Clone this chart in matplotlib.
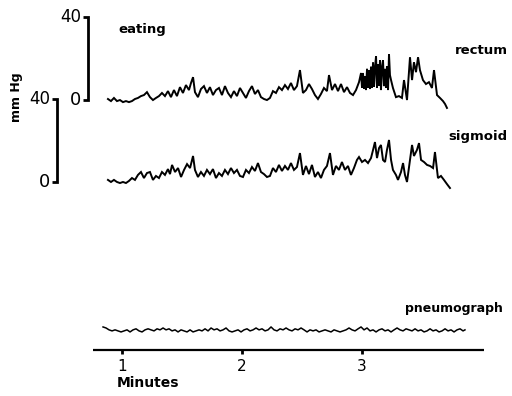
import matplotlib
matplotlib.use("Agg")
import matplotlib.pyplot as plt

# ---------------- data ----------------
# time in minutes, pressure in mm Hg
rectum_t = [0.883, 0.908, 0.933, 0.958, 0.983, 1.008, 1.033, 1.058, 1.083, 1.108,
            1.133, 1.158, 1.183, 1.208, 1.233, 1.258, 1.283, 1.308, 1.333, 1.358,
            1.383, 1.408, 1.433, 1.458, 1.483, 1.508, 1.533, 1.558, 1.575, 1.592,
            1.608, 1.633, 1.658, 1.683, 1.708, 1.733, 1.758, 1.783, 1.808, 1.833,
            1.858, 1.883, 1.908, 1.933, 1.958, 1.983, 2.008, 2.033, 2.058, 2.083,
            2.108, 2.133, 2.158, 2.183, 2.208, 2.233, 2.258, 2.283, 2.308, 2.333,
            2.358, 2.383, 2.408, 2.433, 2.458, 2.483, 2.508, 2.533, 2.558, 2.583,
            2.608, 2.633, 2.658, 2.683, 2.708, 2.725, 2.750, 2.775, 2.800, 2.825,
            2.850, 2.875, 2.900, 2.925, 2.950, 2.975, 2.992,
            3.000, 3.008, 3.017, 3.025, 3.033, 3.042, 3.050, 3.058, 3.067, 3.075,
            3.083, 3.092, 3.100, 3.108, 3.117, 3.125, 3.133, 3.142, 3.150, 3.158,
            3.167, 3.175, 3.183, 3.192, 3.200, 3.208, 3.217, 3.225, 3.233, 3.242,
            3.258, 3.283, 3.308, 3.333, 3.350, 3.375,
            3.400, 3.417, 3.433, 3.450, 3.467, 3.483, 3.508, 3.533, 3.558, 3.583,
            3.600, 3.625, 3.650, 3.675, 3.692, 3.708]
rectum_p = [0.5, -0.5, 1.0, -0.5, 0.0, -1.0, -0.5, -1.0, -0.5, 0.5,
            1.0, 1.9, 2.4, 3.8, 1.4, 0.0, 1.0, 1.9, 3.4, 1.9,
            4.3, 1.4, 4.8, 1.9, 6.2, 3.4, 7.2, 4.8, 8.2, 11.0,
            3.8, 1.4, 5.3, 6.7, 3.4, 6.2, 2.4, 4.8, 5.8, 2.4,
            6.7, 3.4, 1.4, 4.3, 1.9, 5.8, 3.4, 1.0, 4.3, 6.7,
            2.9, 4.8, 1.4, 0.5, 0.0, 1.0, 4.3, 3.4, 6.2, 4.8,
            7.2, 5.3, 8.2, 4.8, 6.7, 14.4, 3.4, 4.8, 7.7, 5.3,
            2.4, 0.5, 2.9, 5.8, 4.3, 12.0, 4.8, 7.7, 4.3, 7.7,
            3.8, 6.2, 3.4, 2.4, 4.8, 8.6, 13.0,
            6.0, 13.0, 5.5, 11.5, 4.8, 15.0, 6.0, 14.4, 5.3, 16.0,
            5.8, 18.2, 6.5, 15.5, 21.1, 5.8, 17.3, 7.0, 19.2, 4.8,
            16.0, 19.2, 6.7, 15.0, 6.0, 16.3, 4.8, 22.1, 12.0, 9.6,
            5.8, 1.4, 1.9, 1.0, 9.6, 0.0,
            20.6, 9.6, 18.2, 13.4, 20.6, 14.4, 9.6, 7.7, 8.6, 5.8,
            14.4, 2.4, 1.0, -0.5, -1.9, -3.8]

sigmoid_t = [0.883, 0.908, 0.933, 0.958, 0.983, 1.008, 1.033, 1.058, 1.083, 1.108,
             1.133, 1.158, 1.183, 1.208, 1.233, 1.258, 1.283, 1.308, 1.333, 1.358,
             1.383, 1.400, 1.417, 1.442, 1.467, 1.492, 1.517, 1.542, 1.567, 1.592,
             1.608, 1.633, 1.658, 1.683, 1.708, 1.733, 1.758, 1.783, 1.808, 1.833,
             1.858, 1.883, 1.908, 1.933, 1.958, 1.983, 2.008, 2.033, 2.058, 2.083,
             2.108, 2.133, 2.158, 2.183, 2.208, 2.233, 2.258, 2.283, 2.308, 2.333,
             2.358, 2.383, 2.408, 2.433, 2.458, 2.483, 2.508, 2.533, 2.558, 2.583,
             2.608, 2.633, 2.658, 2.683, 2.708, 2.733, 2.758, 2.783, 2.808, 2.833,
             2.858, 2.883, 2.908, 2.933, 2.958, 2.975, 3.000, 3.025, 3.050, 3.075,
             3.092, 3.108, 3.125, 3.142, 3.158, 3.175, 3.192, 3.208, 3.225, 3.242,
             3.258, 3.283, 3.300, 3.325, 3.342, 3.358, 3.375, 3.400, 3.417, 3.433,
             3.458, 3.475, 3.492, 3.517, 3.542, 3.567, 3.592, 3.608, 3.633, 3.658,
             3.683, 3.708, 3.733]
sigmoid_p = [1.0, 0.0, 1.0, 0.0, -0.5, 0.0, -0.5, 0.5, 1.9, 1.0,
             3.4, 4.8, 1.9, 4.3, 4.8, 1.0, 2.9, 1.9, 4.8, 3.4,
             6.2, 3.8, 8.2, 4.8, 6.7, 2.4, 5.8, 8.6, 6.7, 12.5,
             5.8, 2.4, 4.8, 2.9, 5.8, 3.8, 6.2, 1.9, 4.3, 2.9,
             5.8, 3.8, 6.7, 4.3, 5.8, 2.9, 2.4, 5.8, 4.3, 7.2,
             5.3, 9.1, 4.8, 3.8, 2.4, 2.9, 6.7, 4.8, 8.2, 5.3,
             7.7, 5.8, 9.1, 5.8, 7.2, 13.9, 3.4, 7.7, 3.8, 8.2,
             2.4, 4.8, 1.9, 5.8, 7.7, 13.9, 3.4, 7.7, 5.8, 9.6,
             5.8, 7.7, 3.4, 6.7, 10.6, 12.0, 9.6, 10.6, 9.1, 11.5,
             15.4, 19.2, 11.5, 16.3, 17.8, 10.6, 9.6, 15.4, 20.2, 10.6,
             5.8, 3.4, 1.0, 4.8, 9.1, 3.4, 0.0, 10.6, 17.8, 12.5,
             15.4, 18.7, 10.6, 9.6, 8.2, 7.7, 6.7, 14.4, 1.9, 2.9,
             1.0, -1.0, -2.9]

pneumo_t = [0.842, 0.867, 0.892, 0.917, 0.942, 0.967, 0.992, 1.017, 1.042, 1.067,
            1.092, 1.117, 1.142, 1.167, 1.192, 1.217, 1.242, 1.267, 1.292, 1.317,
            1.342, 1.367, 1.392, 1.417, 1.442, 1.467, 1.492, 1.517, 1.542, 1.567,
            1.592, 1.617, 1.642, 1.667, 1.692, 1.717, 1.742, 1.767, 1.792, 1.817,
            1.842, 1.867, 1.892, 1.917, 1.942, 1.967, 1.992, 2.017, 2.042, 2.067,
            2.092, 2.117, 2.142, 2.167, 2.192, 2.217, 2.242, 2.267, 2.292, 2.317,
            2.342, 2.367, 2.392, 2.417, 2.442, 2.467, 2.492, 2.517, 2.542, 2.567,
            2.592, 2.617, 2.642, 2.667, 2.692, 2.717, 2.742, 2.767, 2.792, 2.817,
            2.842, 2.867, 2.892, 2.917, 2.942, 2.967, 2.992, 3.017, 3.042, 3.067,
            3.092, 3.117, 3.142, 3.167, 3.192, 3.217, 3.242, 3.267, 3.292, 3.317,
            3.342, 3.367, 3.392, 3.417, 3.442, 3.467, 3.492, 3.517, 3.542, 3.567,
            3.592, 3.617, 3.642, 3.667, 3.692, 3.717, 3.742, 3.767, 3.792, 3.817,
            3.842, 3.858]
pneumo_a = [1.9, 1.4, 0.5, 0, 0.5, 0, -0.5, 0, 0.5, -0.5,
            0.5, 1.0, 0, -0.5, 0.5, 1.0, 0.5, 0, 1.0, 0.5,
            1.4, 0.5, 1.0, 0, 0.5, -0.5, 0.5, 0, -0.5, 0.5,
            -0.5, 0, 0.5, 0, 1.0, 0, 1.4, 0.5, 1.0, 0,
            0.5, 1.4, 0, -0.5, 0, 0.5, -0.5, 0.5, 1.0, 0,
            0.5, 1.4, 0.5, 1.0, 0, 0.5, 1.9, 0.5, 0, 1.0,
            0.5, 1.4, 0.5, 0, 1.0, 0.5, 1.4, 0.5, -0.5, 0.5,
            0, 0.5, -0.5, 0, 0.5, 0, -0.5, 0.5, 0, -0.5,
            0, 0.5, 1.4, 0.5, 0, 1.0, 1.9, 0.5, 1.4, 0,
            0.5, -0.5, 0.5, 1.0, 0, 0.5, -0.5, 0.5, 1.4, 0.5,
            0, 1.0, 0.5, 0, 1.0, 0, 0.5, -0.5, 0, 1.0,
            0, 0.5, -0.5, 0, 1.0, 0, 0.5, -0.5, 0.5, 1.0,
            0, 0.5]

minute_ticks = [1, 2, 3]
minute_labels = ["1", "2", "3"]
scale_labels = ["40", "0"]

# ---------------- layout ----------------
RECTUM_OFF = 39.4
SIGMOID_OFF = 0.0
PNEUMO_OFF = -71.6
AXIS_Y = -80.8

fig = plt.figure(figsize=(5.12, 3.96), dpi=100)
ax = fig.add_axes([0, 0, 1, 1])
ax.set_xlim(-0.0167, 4.25)
ax.set_ylim(-102.9, 87.5)
ax.axis("off")

ink = "black"
fam = ["DejaVu Sans"]

ax.plot(rectum_t, [p + RECTUM_OFF for p in rectum_p], color=ink, lw=1.4,
        solid_joinstyle="miter")
ax.plot(sigmoid_t, [p + SIGMOID_OFF for p in sigmoid_p], color=ink, lw=1.4,
        solid_joinstyle="miter")
ax.plot(pneumo_t, [a + PNEUMO_OFF for a in pneumo_a], color=ink, lw=1.1)

# time axis
ax.plot([0.758, 4.017], [AXIS_Y, AXIS_Y], color=ink, lw=1.6, solid_capstyle="butt")
for t, lab in zip(minute_ticks, minute_labels):
    ax.plot([t, t], [AXIS_Y, AXIS_Y - 1.8], color=ink, lw=2.0, solid_capstyle="butt")
    ax.text(t, AXIS_Y - 8.0, lab, ha="center", va="center", fontsize=11,
            family=fam)
ax.text(0.955, -96.6, "Minutes", ha="left", va="center", fontsize=10,
        family=fam, fontweight="bold")

# calibration bars
for xb, off in [(0.7167, RECTUM_OFF), (0.4583, SIGMOID_OFF)]:
    ax.plot([xb - 0.042, xb, xb, xb - 0.042], [off + 40, off + 40, off, off],
            color=ink, lw=2.0, solid_joinstyle="miter", solid_capstyle="butt")
    ax.text(xb - 0.055, off + 40, scale_labels[0], ha="right", va="center",
            fontsize=12, family=fam)
    ax.text(xb - 0.055, off, scale_labels[1], ha="right", va="center",
            fontsize=13, family=fam)

ax.text(0.117, 40.9, "mm Hg", rotation=90, ha="center", va="center",
        fontsize=9, family=fam, fontweight="bold")

# trace labels
ax.text(0.967, 73.5, "eating", ha="left", va="center", fontsize=9.5,
        family=fam, fontweight="bold")
ax.text(3.775, 63.0, "rectum", ha="left", va="center", fontsize=9.5,
        family=fam, fontweight="bold")
ax.text(3.717, 22.1, "sigmoid", ha="left", va="center", fontsize=9.5,
        family=fam, fontweight="bold")
ax.text(3.358, -61.0, "pneumograph", ha="left", va="center", fontsize=9,
        family=fam, fontweight="bold")

fig.savefig("out.png", dpi=100, facecolor="white")
